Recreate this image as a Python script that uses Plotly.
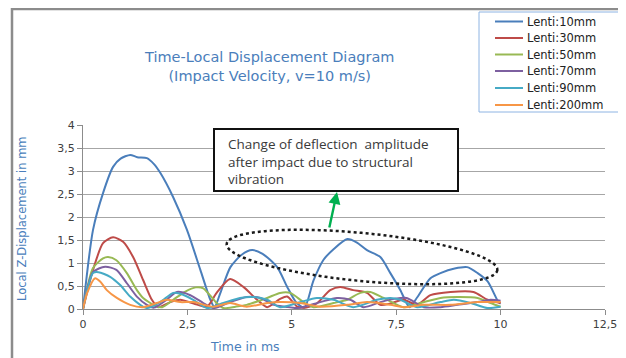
import numpy as np
import plotly.graph_objects as go

# ---------------- data ----------------
series_names = ["Lenti:10mm", "Lenti:30mm", "Lenti:50mm", "Lenti:70mm", "Lenti:90mm", "Lenti:200mm"]
series_colors = ["#4A7EBB", "#BE4B48", "#98B954", "#7D60A0", "#46AAC5", "#F79646"]

x_10 = [0, 0.24, 0.48, 0.72, 0.9, 1.13, 1.3, 1.53, 1.7, 1.85, 2.16, 2.49, 2.81, 3.05, 3.15, 3.29, 3.53, 3.8,
        4.05, 4.3, 4.65, 4.89, 5.1, 5.3, 5.52, 5.76, 6.0, 6.33, 6.55, 6.8, 7.12, 7.36, 7.6, 7.82, 8.0, 8.32,
        8.56, 8.9, 9.2, 9.45, 9.69, 9.95, 10]
y_10 = [0, 1.72, 2.52, 3.09, 3.27, 3.35, 3.3, 3.28, 3.15, 2.96, 2.43, 1.72, 0.85, 0.2, 0.04, 0.35, 0.91, 1.18,
        1.28, 1.2, 0.91, 0.48, 0.15, 0.03, 0.62, 1.07, 1.3, 1.52, 1.45, 1.28, 1.13, 0.78, 0.41, 0.04, 0.25, 0.67,
        0.78, 0.88, 0.91, 0.78, 0.6, 0.15, 0.12]

x_30 = [0, 0.24, 0.48, 0.72, 0.96, 1.2, 1.44, 1.65, 1.8, 2.09, 2.33, 2.65, 2.97, 3.2, 3.52, 3.84, 4.17, 4.41,
        4.72, 4.89, 5.13, 5.35, 5.6, 5.92, 6.16, 6.47, 6.8, 7.12, 7.36, 7.68, 8.0, 8.32, 8.8, 9.35, 9.69, 10]
y_30 = [0, 0.85, 1.43, 1.56, 1.46, 1.13, 0.63, 0.2, 0.04, 0.15, 0.2, 0.12, 0.05, 0.35, 0.65, 0.48, 0.2, 0.04,
        0.22, 0.27, 0.05, 0.03, 0.12, 0.41, 0.48, 0.41, 0.35, 0.09, 0.12, 0.2, 0.09, 0.3, 0.37, 0.37, 0.2, 0.13]

x_50 = [0, 0.24, 0.48, 0.6, 0.8, 1.05, 1.29, 1.44, 1.73, 1.9, 2.16, 2.45, 2.7, 2.88, 3.2, 3.36, 3.65, 3.92,
        4.41, 4.72, 4.96, 5.28, 5.52, 6.0, 6.33, 6.64, 6.88, 7.2, 7.68, 8.08, 8.56, 8.97, 9.45, 9.76, 10]
y_50 = [0, 0.89, 1.1, 1.13, 1.06, 0.78, 0.41, 0.24, 0.07, 0.04, 0.2, 0.38, 0.47, 0.45, 0.13, 0.02, 0.05, 0.09,
        0.24, 0.35, 0.35, 0.15, 0.04, 0.13, 0.2, 0.35, 0.37, 0.24, 0.04, 0.13, 0.24, 0.26, 0.24, 0.13, 0.05]

x_70 = [0, 0.24, 0.53, 0.8, 1.05, 1.29, 1.53, 1.7, 2.0, 2.25, 2.57, 2.88, 3.12, 3.52, 3.92, 4.25, 4.57, 4.85,
        5.13, 5.68, 6.08, 6.4, 6.72, 7.12, 7.45, 7.75, 8.16, 8.56, 8.97, 9.45, 9.76, 10]
y_70 = [0, 0.8, 0.92, 0.85, 0.56, 0.27, 0.09, 0.03, 0.2, 0.37, 0.3, 0.13, 0.02, 0.15, 0.26, 0.24, 0.09, 0.05,
        0.02, 0.15, 0.24, 0.2, 0.04, 0.15, 0.22, 0.24, 0.04, 0.04, 0.09, 0.15, 0.2, 0.18]

x_90 = [0, 0.24, 0.37, 0.65, 0.89, 1.13, 1.37, 1.53, 1.85, 2.16, 2.33, 2.64, 2.97, 3.36, 3.76, 4.08, 4.41,
        4.72, 5.2, 5.6, 6.0, 6.47, 7.04, 7.36, 7.6, 8.0, 8.56, 8.88, 9.28, 9.69, 10]
y_90 = [0, 0.78, 0.8, 0.7, 0.52, 0.27, 0.09, 0.02, 0.15, 0.35, 0.33, 0.2, 0.02, 0.13, 0.24, 0.26, 0.2,
        0.04, 0.15, 0.24, 0.2, 0.04, 0.2, 0.24, 0.2, 0.04, 0.15, 0.2, 0.13, 0.02, 0.05]

x_200 = [0, 0.1, 0.29, 0.41, 0.57, 0.81, 1.13, 1.44, 1.77, 2.0, 2.33, 2.64, 3.12, 3.52, 3.92, 4.41, 4.72,
         5.2, 5.68, 6.33, 6.8, 7.36, 7.68, 8.16, 8.8, 9.45, 10]
y_200 = [0, 0.35, 0.67, 0.6, 0.41, 0.24, 0.09, 0.04, 0.13, 0.2, 0.15, 0.15, 0.05, 0.13, 0.05, 0.13, 0.15,
         0.13, 0.05, 0.09, 0.15, 0.09, 0.04, 0.09, 0.09, 0.15, 0.15]

series_x = [x_10, x_30, x_50, x_70, x_90, x_200]
series_y = [y_10, y_30, y_50, y_70, y_90, y_200]

x_tick_vals = [0, 2.5, 5, 7.5, 10, 12.5]
x_tick_text = ["0", "2,5", "5", "7,5", "10", "12,5"]
y_tick_vals = [0, 0.5, 1, 1.5, 2, 2.5, 3, 3.5, 4]
y_tick_text = ["0", "0,5", "1", "1,5", "2", "2,5", "3", "3,5", "4"]

# ---------------- layout geometry ----------------
# The page body has an 8px margin, so the figure is drawn 8px in from the window corner.
OFF = 8
SW, SH = 626, 358                      # window size
W, H = SW - OFF, SH - OFF              # figure size
PL, PR, PT, PB = 83, 605, 125, 309     # plot area in window pixels
L, T = PL - OFF, PT - OFF
R, B = W - (PR - OFF), H - (PB - OFF)
PW, PH = PR - PL, PB - PT
XMAX, YMAX = 12.5, 4.0


def px2x(px):
    return (px - PL) / PW * XMAX


def py2y(py):
    return (PB - py) / PH * YMAX


def px2p(px):
    return (px - PL) / PW


def py2p(py):
    return (PB - py) / PH


FONT = "DejaVu Sans"
TXT = "#404040"
BLUE_T = "#4A7EBB"

fig = go.Figure()
for name, col, xs, ys in zip(series_names, series_colors, series_x, series_y):
    fig.add_trace(go.Scatter(x=xs, y=ys, name=name, mode="lines", showlegend=False,
                             line=dict(color=col, width=2, shape="spline", smoothing=0.7)))

# dotted ellipse (window pixels -> data)
t = np.linspace(0, 2 * np.pi, 80)
cx, cy, a, b, th = 362, 257, 136, 24, np.deg2rad(5.5)
ex = cx + a * np.cos(t) * np.cos(th) - b * np.sin(t) * np.sin(th)
ey = cy + a * np.cos(t) * np.sin(th) + b * np.sin(t) * np.cos(th)
path = "M " + " L ".join(f"{px2x(u):.4f},{py2y(v):.4f}" for u, v in zip(ex, ey)) + " Z"

shapes = [
    # outer chart border
    dict(type="rect", xref="paper", yref="paper", x0=px2p(12), x1=px2p(640), y0=py2p(372), y1=py2p(9),
         line=dict(color="#8C8C8C", width=2.5), layer="below"),
    # annotation box
    dict(type="rect", xref="x", yref="y", x0=px2x(214), x1=px2x(458), y0=py2y(191), y1=py2y(129),
         line=dict(color="#111111", width=2), fillcolor="white", layer="above"),
    dict(type="path", xref="x", yref="y", path=path,
         line=dict(color="#1a1a1a", width=2.5, dash="dot")),
    # legend box
    dict(type="rect", xref="paper", yref="paper", x0=px2p(479), x1=px2p(625), y0=py2p(112), y1=py2p(12),
         line=dict(color="#8EB4E3", width=1), fillcolor="white"),
]

annotations = [
    dict(text="Time-Local Displacement Diagram<br>(Impact Velocity, v=10 m/s)", xref="paper", yref="paper",
         x=px2p(269), y=py2p(66), xanchor="center", yanchor="middle", showarrow=False,
         font=dict(family=FONT, size=14.5, color=BLUE_T)),
    dict(text="Local Z-Displacement in mm", xref="paper", yref="paper", textangle=-90,
         x=px2p(22), y=py2p(219), xanchor="center", yanchor="middle", showarrow=False,
         font=dict(family=FONT, size=11.5, color=BLUE_T)),
    dict(text="Time in ms", xref="paper", yref="paper",
         x=px2p(245), y=py2p(346), xanchor="center", yanchor="middle", showarrow=False,
         font=dict(family=FONT, size=12.5, color=BLUE_T)),
    dict(text="Change of deflection  amplitude<br>after impact due to structural<br>vibration",
         xref="x", yref="y", x=px2x(226), y=py2y(161), xanchor="left", yanchor="middle", align="left",
         showarrow=False, font=dict(family="Open Sans", size=13.5, color="#3a3a3a")),
    dict(text="", xref="x", yref="y", x=px2x(337), y=py2y(192), ax=-8, ay=37, axref="pixel", ayref="pixel",
         showarrow=True, arrowhead=2, arrowsize=1, arrowwidth=2.4, arrowcolor="#00B050"),
]

# hand-drawn legend entries (compact spacing as in the reference)
leg_rows = [21.5, 38, 54.5, 71, 88, 105]
for name, col, ry in zip(series_names, series_colors, leg_rows):
    shapes.append(dict(type="line", xref="paper", yref="paper", x0=px2p(495), x1=px2p(523),
                       y0=py2p(ry), y1=py2p(ry), line=dict(color=col, width=2)))
    annotations.append(dict(text=name, xref="paper", yref="paper", x=px2p(525), y=py2p(ry),
                            xanchor="left", yanchor="middle", showarrow=False,
                            font=dict(family=FONT, size=11.5, color="#222222")))

fig.update_layout(
    width=W, height=H, margin=dict(l=L, r=R, t=T, b=B, autoexpand=False),
    paper_bgcolor="white", plot_bgcolor="white",
    showlegend=False,
    shapes=shapes, annotations=annotations,
    xaxis=dict(range=[0, XMAX], tickvals=x_tick_vals, ticktext=x_tick_text, showgrid=False,
               showline=True, linecolor="#8C8C8C", linewidth=1, ticks="outside", ticklen=5,
               tickcolor="#8C8C8C", zeroline=False,
               tickfont=dict(family=FONT, size=11, color=TXT)),
    yaxis=dict(range=[0, YMAX], tickvals=y_tick_vals, ticktext=y_tick_text, showgrid=True,
               gridcolor="#A6A6A6", gridwidth=1, showline=True, linecolor="#8C8C8C", linewidth=1,
               ticks="outside", ticklen=5, tickcolor="#8C8C8C", zeroline=False,
               tickfont=dict(family=FONT, size=11, color=TXT)),
)

fig.write_html("out.html")
